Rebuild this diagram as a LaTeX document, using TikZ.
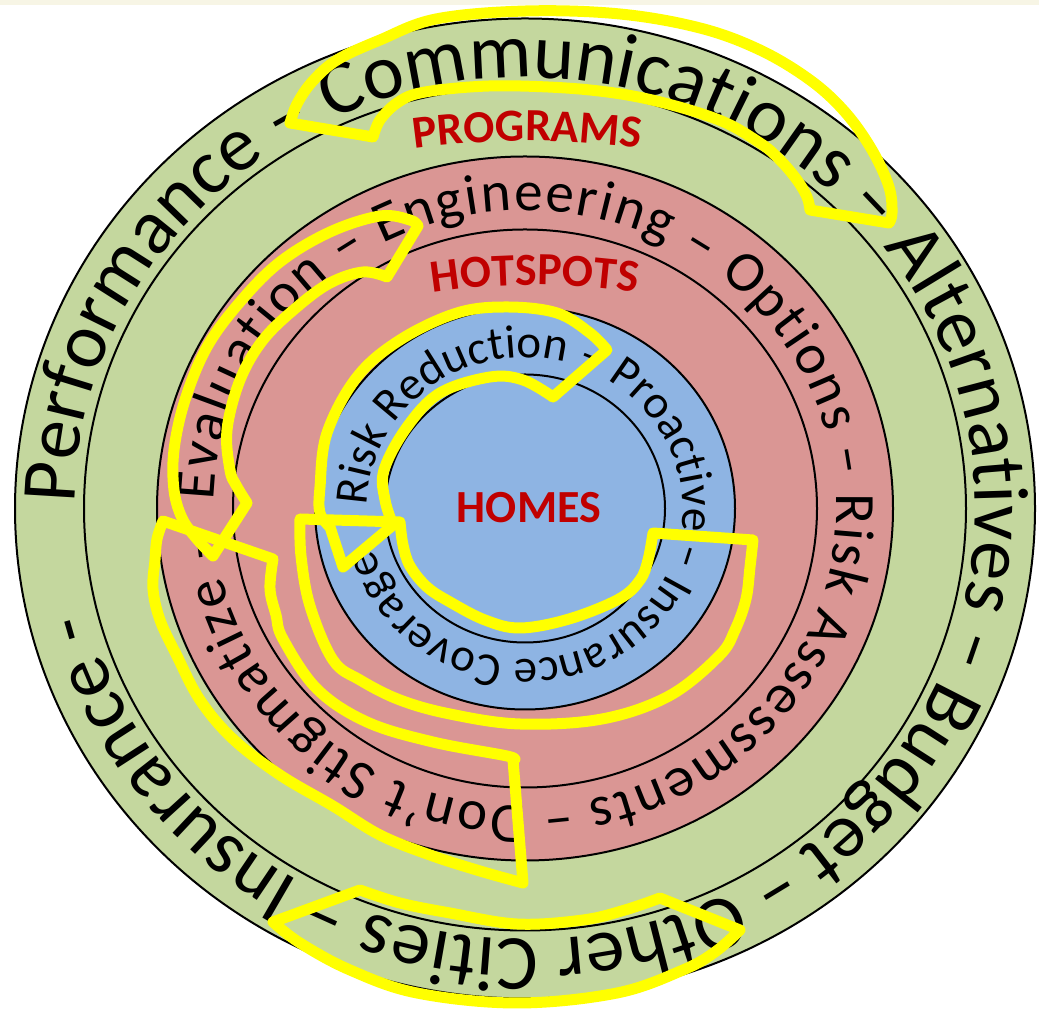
\documentclass[tikz,border=0pt]{standalone}
\usepackage{fontspec}
\setmainfont{Carlito}
\usetikzlibrary{decorations.text}
\definecolor{ringgreen}{RGB}{196,215,158}
\definecolor{ringred}{RGB}{218,150,148}
\definecolor{ringblue}{RGB}{142,180,227}
\definecolor{labelred}{RGB}{192,0,0}
\definecolor{creamstrip}{RGB}{247,245,229}
\definecolor{arrowyellow}{RGB}{255,255,0}
\tikzset{
  ringline/.style={draw=black, line width=2pt},
  yarrow/.style={draw=arrowyellow, line width=11pt, line join=round},
  centerlabel/.style={font=\bfseries\fontsize{46}{46}\selectfont, text=labelred, inner sep=0pt},
}
\begin{document}
\begin{tikzpicture}[x=1pt,y=1pt]
\useasboundingbox (0,0) rectangle (1039,1009);
\fill[white] (0,0) rectangle (1039,1009);
\fill[creamstrip] (0,1004) rectangle (1039,1009);

\begin{scope}[shift={(525,500.5)}]
  \filldraw[ringline, fill=ringgreen] (0,0) ellipse [x radius=510, y radius=490];
  \draw[ringline] (0,0) ellipse [x radius=441, y radius=422];
  \filldraw[ringline, fill=ringred] (0,0) ellipse [x radius=368, y radius=352];
  \draw[ringline] (0,0) ellipse [x radius=292, y radius=279];
  \filldraw[ringline, fill=ringblue] (0,0) ellipse [x radius=210, y radius=201];
  \draw[ringline] (0,0) ellipse [x radius=140, y radius=134];

  % outer ring text
  \path[decorate, decoration={text along path, text align=fit to path,
    text={|\fontsize{78}{80}\selectfont|Performance – Communications – Alternatives – Budget – Other Cities – Insurance -}}]
    (179.3:450.4 and 431) arc[start angle=179.3, end angle=-166, x radius=450.4, y radius=431];

  % red ring text
  \path[decorate, decoration={text along path, text align=fit to path,
    text={|\fontsize{57}{60}\selectfont|Evaluation – Engineering – Options – Risk Assessments – Don’t Stigmatize –}}]
    (178.5:311.4 and 298) arc[start angle=178.5, end angle=-175.5, x radius=311.4, y radius=298];

  % blue ring text
  \path[decorate, decoration={text along path, text align=fit to path,
    text={|\fontsize{47}{50}\selectfont|Risk Reduction – Proactive – Insurance Coverage –}}]
    (178.8:157.8 and 151) arc[start angle=178.8, end angle=-167, x radius=157.8, y radius=151];
\end{scope}

% arched labels
\path[decorate, decoration={text along path, text align=center,
  text={|\color{labelred}\bfseries\fontsize{46}{46}\selectfont|PROGRAMS}}]
  (405,859) .. controls (480,871) and (575,871) .. (650,859);
\path[decorate, decoration={text along path, text align=center,
  text={|\color{labelred}\bfseries\fontsize{46}{46}\selectfont|HOTSPOTS}}]
  (425,715) .. controls (490,727) and (580,727) .. (645,715);
\node[centerlabel, anchor=base] (homes) at (529,486) {HOMES};

% yellow arrows (pixel coordinates, y downwards)
\begin{scope}[shift={(0,1009)}, yscale=-1]
  % A: top, outer ring
  \draw[yarrow] plot[smooth, tension=0.6] coordinates {(290,123) (297,104) (312,82) (337,60) (380,40) (436,19) (526,11) (620,14) (700,28) (760,50) (810,80) (845,112) (872,150) (889,187) (892,213) (889,223)}
    -- plot[smooth, tension=0.6] coordinates {(810,210) (807,197) (797,180) (780,160) (760,143) (719,120) (652,100) (590,90) (520,86) (470,87) (420,93) (397,103) (380,120) (373,137)} -- cycle;
  % F: bottom, outer ring
  \draw[yarrow] plot[smooth, tension=0.6] coordinates {(360,890) (400,903) (450,913) (517,924) (583,920) (625,910) (660,898)}
    -- plot[smooth, tension=0.6] coordinates {(740,930) (715,952) (683,970) (617,993) (517,1003) (417,993) (350,970) (300,943) (273,922)} -- cycle;
  % B: left, red ring (Evaluation)
  \draw[yarrow] plot[smooth, tension=0.6] coordinates {(418,226) (410,220) (380,216) (330,232) (280,262) (240,302) (207,347) (185,400) (174,450) (174,490) (182,518) (196,538) (213,556)}
    -- plot[smooth, tension=0.6] coordinates {(247,503) (236,485) (230,470) (227,430) (240,380) (263,340) (297,307) (330,283) (363,272) (387,277)} -- cycle;
  % E: lower left, red ring (Don't Stigmatize)
  \draw[yarrow] (163,521) -- plot[smooth, tension=0.6] coordinates {(273,559) (270,589) (276,615) (283,639) (317,689) (367,722) (433,742) (507,756) (513,760)}
    -- plot[smooth, tension=0.6] coordinates {(523,883) (480,871) (430,855) (380,835) (333,806) (280,775) (233,739) (200,700) (177,656) (160,620) (153,589) (155,560) (157,539) (163,521)} -- cycle;
  % C: blue ring top (Risk Reduction)
  \draw[yarrow] plot[smooth, tension=0.6] coordinates {(607,350) (590,333) (557,313) (507,307) (457,313) (400,340) (357,377) (327,433) (320,487) (320,513) (330,527)}
    -- (343,567) -- plot[smooth, tension=0.6] coordinates {(393,525) (385,500) (384,470) (407,427) (440,393) (490,377) (523,380) (553,397)} -- cycle;
  % D: blue ring bottom (Insurance Coverage)
  \draw[yarrow] (653,533) -- plot[smooth, tension=0.6] coordinates {(753,540) (750,567) (746,599) (735,630) (719,656) (669,696) (602,719) (520,724) (450,714) (400,700) (360,680) (333,660) (310,606) (301,556) (300,519)}
    -- plot[smooth, tension=0.6] coordinates {(400,522) (403,545) (410,566) (427,587) (450,602) (485,620) (520,628) (569,619) (619,599) (640,580) (648,560) (653,533)} -- cycle;
\end{scope}
\end{tikzpicture}
\end{document}
